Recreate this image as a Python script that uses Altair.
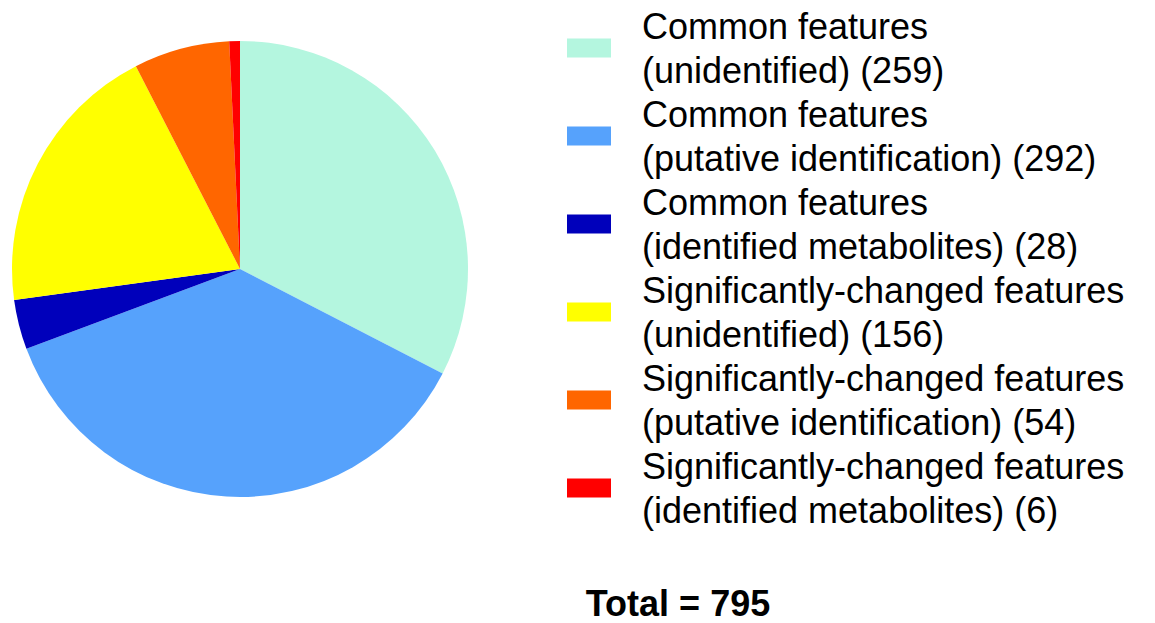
import altair as alt
import pandas as pd

line1 = ["Common features", "Common features", "Common features",
         "Significantly-changed features", "Significantly-changed features",
         "Significantly-changed features"]
line2 = ["(unidentified)", "(putative identification)", "(identified metabolites)",
         "(unidentified)", "(putative identification)", "(identified metabolites)"]
counts = [259, 292, 28, 156, 54, 6]
colors = ["#B4F6DF", "#56A2FC", "#0000BB", "#FFFF00", "#FF6600", "#FF0000"]

keys = [f"{a} {b}" for a, b in zip(line1, line2)]
df = pd.DataFrame({
    "idx": list(range(len(counts))),
    "key": keys,
    "count": counts,
    "label": [f"{a}\n{b} ({c})" for a, b, c in zip(line1, line2, counts)],
})
total_df = pd.DataFrame({"t": [f"Total = {sum(counts)}"]})

color = alt.Color("key:N", scale=alt.Scale(domain=keys, range=colors), legend=None)
FONT = "Liberation Sans"

pie = alt.Chart(df).mark_arc(radius=228).encode(
    theta=alt.Theta("count:Q", stack=True),
    order=alt.Order("idx:Q"),
    color=color,
    x=alt.value(232),
    y=alt.value(261),
)

yscale = alt.Scale(domain=list(range(len(counts))), range=[-4, 524],
                   paddingInner=0, paddingOuter=0)

swatch = alt.Chart(df).mark_bar(size=19).encode(
    y=alt.Y("idx:O", scale=yscale, axis=None),
    x=alt.value(559),
    x2=alt.value(603),
    color=color,
)

labels = alt.Chart(df).mark_text(
    align="left", baseline="middle", font=FONT, fontSize=36,
    lineBreak="\n", lineHeight=44, color="black", dy=-20,
).encode(
    y=alt.Y("idx:O", scale=yscale, axis=None),
    x=alt.value(634),
    text="label:N",
)

total = alt.Chart(total_df).mark_text(
    align="center", baseline="middle", font=FONT, fontSize=36,
    fontWeight="bold", color="black",
).encode(
    x=alt.value(670),
    y=alt.value(597),
    text="t:N",
)

chart = alt.layer(pie, swatch, labels, total).properties(
    width=1139, height=607, padding=0,
).configure_view(stroke=None)

chart.save("out.html", embed_options={"renderer": "svg", "actions": False})
